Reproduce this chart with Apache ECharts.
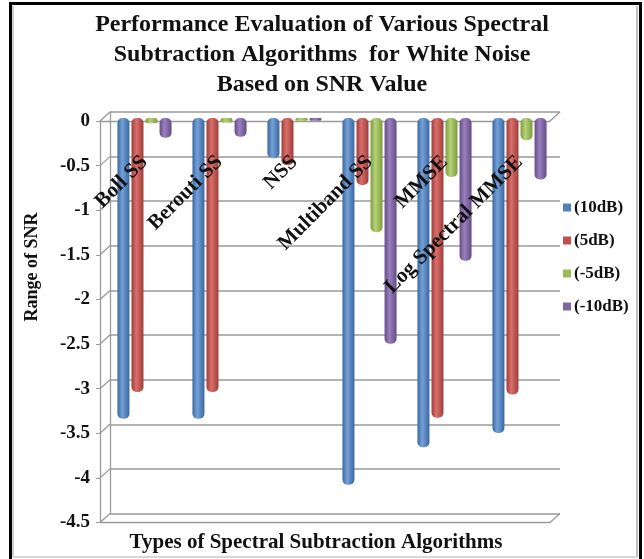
<!DOCTYPE html>
<html>
<head>
<meta charset="utf-8">
<script src="https://cdn.jsdelivr.net/npm/echarts@6/dist/echarts.min.js"></script>
<style>html,body{margin:0;padding:0;background:#fff;}#c{width:644px;height:559px;}</style>
</head>
<body>
<div id="c"></div>
<script>
const categories = ['Boll SS', 'Berouti SS', 'NSS', 'Multiband SS', 'MMSE', 'Log Spectral MMSE'];
const seriesNames = ['(10dB)', '(5dB)', '(-5dB)', '(-10dB)'];
const snr10 = [-3.37, -3.37, -0.45, -4.11, -3.69, -3.53];
const snr5 = [-3.07, -3.07, -0.53, -0.75, -3.36, -3.10];
const snrM5 = [-0.06, -0.05, -0.03, -1.28, -0.66, -0.25];
const snrM10 = [-0.22, -0.21, -0.03, -2.53, -1.60, -0.69];
const yTicks = [0, -0.5, -1, -1.5, -2, -2.5, -3, -3.5, -4, -4.5];
const yMin = -4.5, yMax = 0, yStep = 0.5;

const serif = '"Liberation Serif","Times New Roman",serif';
const base = ['#4F81BD', '#C0504D', '#9BBB59', '#8064A2'];
const dark = ['#3a67a0', '#9e3d3a', '#7e9c40', '#644d85'];
const light = ['#75a1d8', '#da6f6b', '#b5d277', '#9b7fbf'];
const values = [snr10, snr5, snrM5, snrM10];
const gridCol = '#9a9a9a';
const plotH = 401.5;

function cyl(i) {
  return new echarts.graphic.LinearGradient(0, 0, 1, 0, [
    {offset: 0, color: dark[i]}, {offset: 0.4, color: light[i]}, {offset: 1, color: dark[i]}
  ]);
}
function connector(params, api) {
  const p = api.coord([api.value(0), api.value(1)]);
  return {type: 'line', shape: {x1: p[0], y1: p[1], x2: p[0] - 10, y2: p[1] + 9},
          style: {stroke: gridCol, lineWidth: 1.3}};
}

const chart = echarts.init(document.getElementById('c'));
const barSeries = values.map((v, i) => ({
  name: seriesNames[i], type: 'bar', xAxisIndex: 1, yAxisIndex: 1,
  data: v, barWidth: 12, barGap: '17%', z: 5,
  itemStyle: {color: cyl(i), borderRadius: 5}
}));

chart.setOption({
  animation: false,
  backgroundColor: '#fff',
  title: {
    text: 'Performance Evaluation of Various Spectral\nSubtraction Algorithms  for White Noise\nBased on SNR Value',
    left: 'center', top: 5,
    textStyle: {fontFamily: serif, fontWeight: 'bold', fontSize: 24, lineHeight: 30, color: '#111'}
  },
  legend: {
    orient: 'vertical', left: 558, top: 194, itemWidth: 8, itemHeight: 8, itemGap: 16,
    icon: 'rect',
    textStyle: {fontFamily: serif, fontWeight: 'bold', fontSize: 17, color: '#111', padding: [0, 0, 0, -2]},
    data: seriesNames.map((n, i) => ({name: n, itemStyle: {color: base[i]}}))
  },
  grid: [
    {left: 110, top: 112, width: 450, height: plotH, outerBoundsMode: 'none', containLabel: false},
    {left: 107, top: 118, width: 450, height: plotH, outerBoundsMode: 'none', containLabel: false},
    {left: 100, top: 121, width: 450, height: plotH, outerBoundsMode: 'none', containLabel: false}
  ],
  xAxis: [
    {gridIndex: 0, type: 'value', min: 0, max: 1, show: false},
    {gridIndex: 1, type: 'category', data: categories, position: 'bottom', offset: -plotH, z: 10,
     axisLine: {show: false, onZero: false}, axisTick: {show: false}, splitLine: {show: false},
     axisLabel: {rotate: 45, margin: 41, interval: 0, fontFamily: serif, fontWeight: 'bold', fontSize: 21, color: '#111'}},
    {gridIndex: 2, type: 'category', data: categories, position: 'top', axisLine: {onZero: false, lineStyle: {color: gridCol, width: 1.3}},
     axisTick: {show: false}, axisLabel: {show: false}},
    {gridIndex: 2, type: 'category', data: categories, position: 'bottom', axisLine: {onZero: false, lineStyle: {color: gridCol, width: 1.3}},
     axisTick: {show: false}, axisLabel: {show: false}}
  ],
  yAxis: [
    {gridIndex: 0, type: 'value', min: yMin, max: yMax, interval: yStep,
     axisLine: {show: true, lineStyle: {color: gridCol, width: 1.3}}, axisTick: {show: false}, axisLabel: {show: false},
     splitLine: {show: true, lineStyle: {color: gridCol, width: 1.5}}},
    {gridIndex: 1, type: 'value', min: yMin, max: yMax, interval: yStep,
     axisLine: {show: false}, axisTick: {show: false}, axisLabel: {show: false}, splitLine: {show: false}},
    {gridIndex: 2, type: 'value', min: yMin, max: yMax, interval: yStep,
     axisLine: {show: true, lineStyle: {color: gridCol, width: 1.3}},
     axisTick: {show: true, length: 4, lineStyle: {color: gridCol}},
     splitLine: {show: false},
     axisLabel: {margin: 10, fontFamily: serif, fontWeight: 'bold', fontSize: 19, color: '#111'}}
  ],
  graphic: [
    {type: 'rect', shape: {x: 10.5, y: 3.5, width: 630, height: 620}, style: {fill: 'none', stroke: '#000', lineWidth: 3}, z: 100},
    {type: 'line', shape: {x1: 13, y1: 6, x2: 13, y2: 557}, style: {stroke: '#d0d0d0', lineWidth: 2}},
    {type: 'line', shape: {x1: 637, y1: 6, x2: 637, y2: 557}, style: {stroke: '#c0c0c0', lineWidth: 2}},
    {type: 'line', shape: {x1: 13, y1: 557, x2: 637, y2: 557}, style: {stroke: '#d8d8d8', lineWidth: 2}},
    {type: 'text', x: 32, y: 267, rotation: Math.PI / 2,
     style: {text: 'Range of SNR', fontFamily: serif, fontWeight: 'bold', fontSize: 18, fill: '#111', align: 'center', verticalAlign: 'middle'}},
    {type: 'text', x: 316, y: 543,
     style: {text: 'Types of Spectral Subtraction Algorithms', fontFamily: serif, fontWeight: 'bold', fontSize: 21, fill: '#111', align: 'center', verticalAlign: 'middle'}}
  ],
  series: [
    {type: 'custom', xAxisIndex: 0, yAxisIndex: 0, clip: false, silent: true, z: 1,
     renderItem: connector, data: yTicks.map(v => [0, v])},
    {type: 'custom', xAxisIndex: 0, yAxisIndex: 0, clip: false, silent: true, z: 1,
     renderItem: connector, data: [[1, yMax], [1, yMin]]}
  ].concat(barSeries)
});
</script>
</body>
</html>
